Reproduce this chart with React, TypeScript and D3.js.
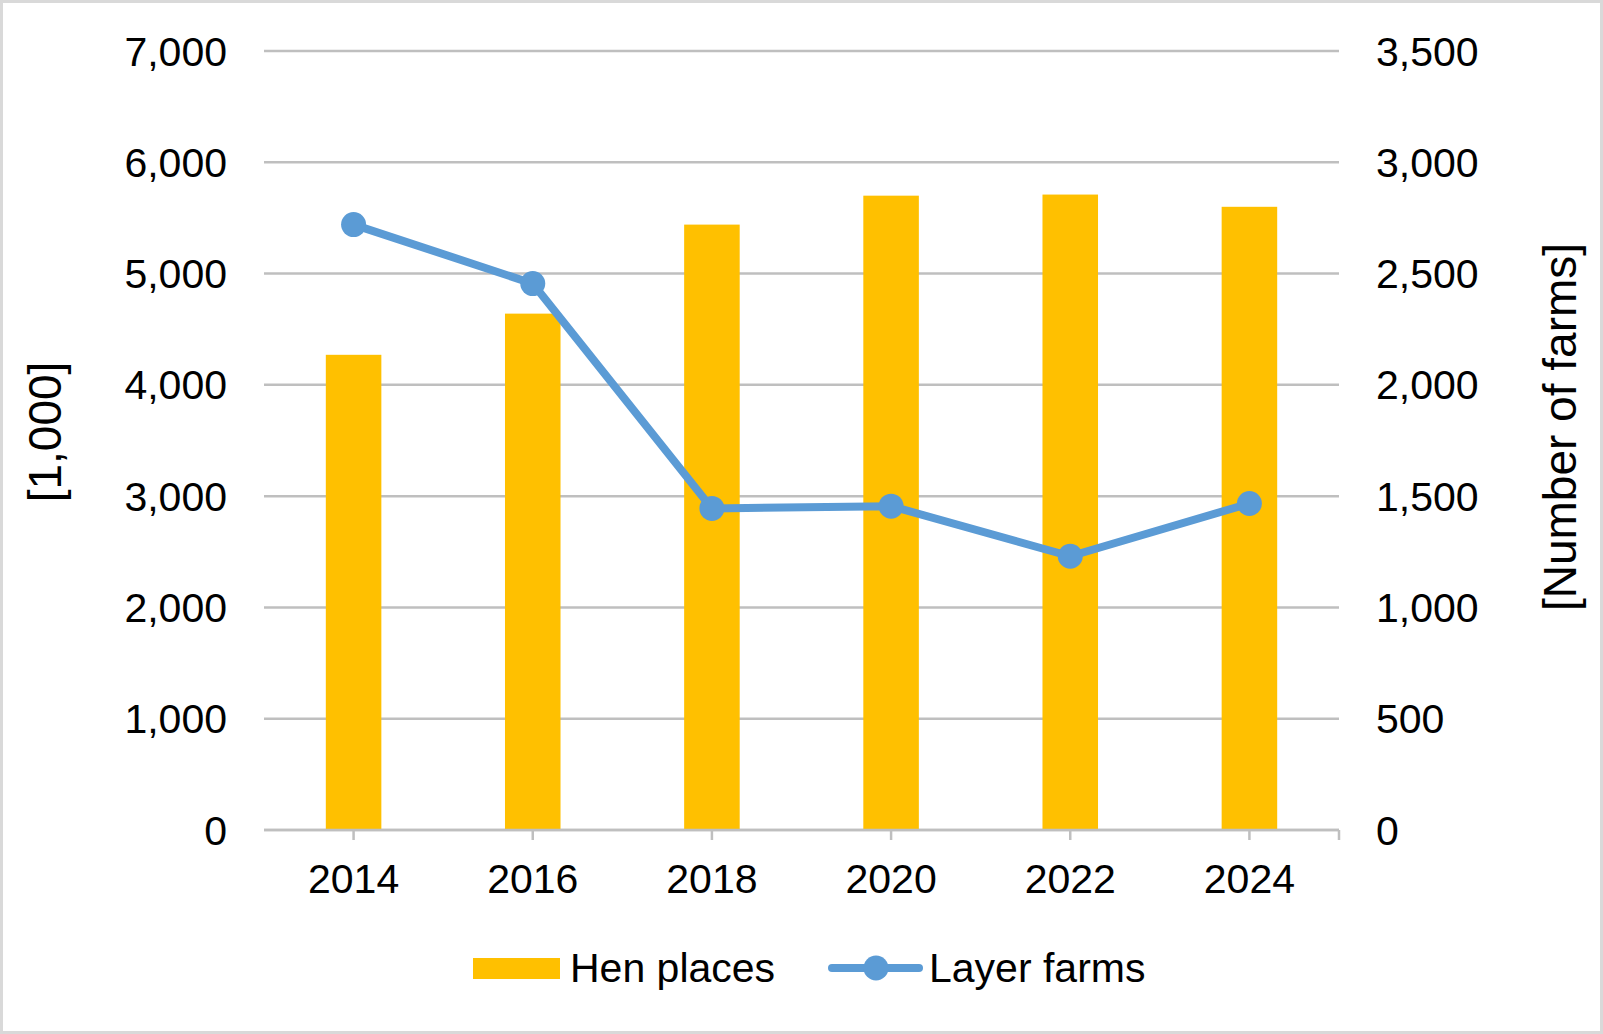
import React from "react";
import * as d3 from "d3";

const years = ["2014", "2016", "2018", "2020", "2022", "2024"];
const henPlaces = [4270, 4640, 5440, 5700, 5710, 5600];
const layerFarms = [2720, 2455, 1445, 1455, 1230, 1467];
const leftTicks = [0, 1000, 2000, 3000, 4000, 5000, 6000, 7000];
const rightTicks = [0, 500, 1000, 1500, 2000, 2500, 3000, 3500];

const W = 1603;
const H = 1034;
const plot = { left: 264, right: 1339, top: 51, bottom: 830 };
const FONT = "'Liberation Sans', Arial, sans-serif";
const GRID = "#BFBFBF";
const BAR = "#FFC000";
const LINE = "#5B9BD5";

export default function App() {
  const x = d3.scaleBand<string>().domain(years).range([plot.left, plot.right]).paddingInner(0).paddingOuter(0);
  const yL = d3.scaleLinear().domain([0, 7000]).range([plot.bottom, plot.top]);
  const yR = d3.scaleLinear().domain([0, 3500]).range([plot.bottom, plot.top]);
  const bw = x.bandwidth() * 0.31;
  const cx = (y: string) => (x(y) as number) + x.bandwidth() / 2;
  const lineGen = d3
    .line<number>()
    .x((_, i) => cx(years[i]))
    .y((d) => yR(d));
  const fmt = d3.format(",");

  return (
    <svg width={W} height={H} style={{ position: "absolute", left: 0, top: 0 }} fontFamily={FONT}>
      <rect x={0} y={0} width={W} height={H} fill="#fff" />
      <rect x={1.5} y={1.5} width={W - 3} height={H - 3} fill="none" stroke="#D9D9D9" strokeWidth={3} />
      {leftTicks.map((t) => (
        <line key={"g" + t} x1={plot.left} x2={plot.right} y1={yL(t)} y2={yL(t)} stroke={GRID} strokeWidth={2.5} />
      ))}
      {henPlaces.map((v, i) => (
        <rect key={"b" + i} x={cx(years[i]) - bw / 2} y={yL(v)} width={bw} height={plot.bottom - yL(v)} fill={BAR} />
      ))}
      <line x1={plot.left} x2={plot.right} y1={plot.bottom} y2={plot.bottom} stroke={GRID} strokeWidth={2.5} />
      {years.map((y) => (
        <line key={"t" + y} x1={cx(y)} x2={cx(y)} y1={plot.bottom} y2={plot.bottom + 10} stroke={GRID} strokeWidth={2.5} />
      ))}
      <line x1={plot.right} x2={plot.right} y1={plot.bottom} y2={plot.bottom + 10} stroke={GRID} strokeWidth={2.5} />
      <path d={lineGen(layerFarms) || ""} fill="none" stroke={LINE} strokeWidth={8} strokeLinejoin="round" />
      {layerFarms.map((v, i) => (
        <circle key={"c" + i} cx={cx(years[i])} cy={yR(v)} r={12.5} fill={LINE} />
      ))}
      {leftTicks.map((t) => (
        <text key={"l" + t} x={227} y={yL(t) + 14.5} textAnchor="end" fontSize={41} fill="#000">
          {fmt(t)}
        </text>
      ))}
      {rightTicks.map((t) => (
        <text key={"r" + t} x={1376} y={yR(t) + 14.5} textAnchor="start" fontSize={41} fill="#000">
          {fmt(t)}
        </text>
      ))}
      {years.map((y) => (
        <text key={"x" + y} x={cx(y)} y={893} textAnchor="middle" fontSize={41} fill="#000">
          {y}
        </text>
      ))}
      <text transform="translate(61,432) rotate(-90)" textAnchor="middle" fontSize={46} fill="#000">
        [1,000]
      </text>
      <text transform="translate(1576,427) rotate(-90)" textAnchor="middle" fontSize={46} fill="#000">
        [Number of farms]
      </text>
      <rect x={473} y={958} width={87} height={21} fill={BAR} />
      <text x={570} y={982} fontSize={41} fill="#000">Hen places</text>
      <line x1={832} x2={919} y1={968} y2={968} stroke={LINE} strokeWidth={8} strokeLinecap="round" />
      <circle cx={876} cy={968} r={12.5} fill={LINE} />
      <text x={929} y={982} fontSize={41} fill="#000">Layer farms</text>
    </svg>
  );
}
